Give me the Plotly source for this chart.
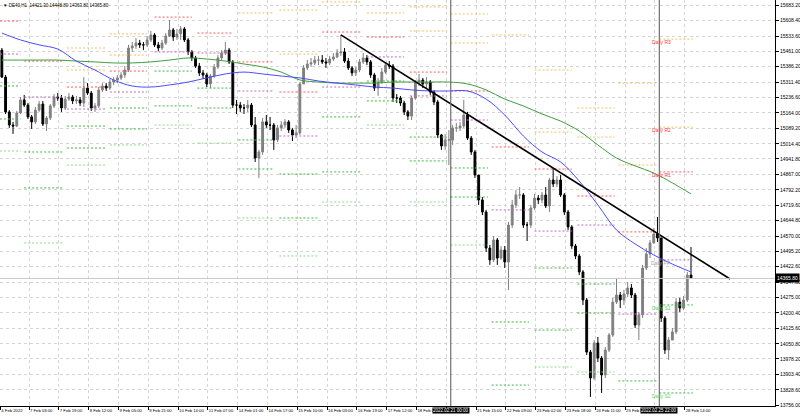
import plotly.graph_objects as go

# ---------------- data (DE40, H1 chart, aggregated to 2-hour candles) ----------------
first_open = 15466
close = [
    15336, 15168, 15105, 15100, 15163, 15226, 15201, 15144, 15120, 15177,
    15206, 15110, 15139, 15197, 15240, 15235, 15187, 15230, 15240, 15221,
    15226, 15211, 15283, 15259, 15187, 15197, 15274, 15293, 15283, 15312,
    15322, 15332, 15346, 15370, 15476, 15486, 15500, 15491, 15491, 15515,
    15539, 15491, 15476, 15500, 15534, 15563, 15529, 15544, 15568, 15515,
    15457, 15428, 15389, 15356, 15346, 15303, 15341, 15385, 15428, 15452,
    15466, 15409, 15201, 15201, 15187, 15187, 15201, 15105, 14946, 14975,
    15120, 15105, 15105, 15033, 15091, 15105, 15120, 15081, 15057, 15067,
    15303, 15380, 15399, 15404, 15418, 15418, 15409, 15404, 15423, 15433,
    15452, 15457, 15413, 15380, 15356, 15370, 15409, 15428, 15409, 15346,
    15283, 15312, 15360, 15394, 15389, 15235, 15235, 15211, 15168, 15148,
    15235, 15312, 15322, 15303, 15312, 15264, 15216, 15057, 15004, 15033,
    15033, 15091, 15091, 15100, 15153, 15042, 14975, 14864, 14744, 14686,
    14512, 14455, 14551, 14464, 14503, 14445, 14623, 14720, 14768, 14768,
    14623, 14623, 14705, 14753, 14744, 14768, 14715, 14840, 14821, 14840,
    14768, 14686, 14614, 14522, 14474, 14397, 14262, 14011, 13886, 14055,
    13982, 13901, 14021, 14093, 14252, 14286, 14262, 14291, 14320, 14286,
    14141, 14190, 14416, 14484, 14537, 14580, 14561, 14175, 14021, 14069,
    14108, 14252, 14223, 14262, 14382, 14365.8]
high = [
    15476, 15346, 15177, 15120, 15173, 15240, 15250, 15211, 15153, 15192,
    15221, 15221, 15148, 15206, 15254, 15259, 15250, 15245, 15259, 15250,
    15245, 15240, 15336, 15307, 15269, 15211, 15288, 15307, 15307, 15327,
    15336, 15346, 15360, 15389, 15491, 15505, 15524, 15515, 15505, 15534,
    15558, 15548, 15505, 15515, 15548, 15611, 15572, 15568, 15582, 15577,
    15524, 15466, 15438, 15404, 15370, 15356, 15351, 15399, 15442, 15466,
    15505, 15476, 15418, 15226, 15216, 15206, 15226, 15211, 15144, 14985,
    15139, 15153, 15144, 15115, 15105, 15124, 15134, 15129, 15091, 15105,
    15312, 15394, 15418, 15428, 15438, 15438, 15442, 15428, 15438, 15452,
    15471, 15539, 15476, 15428, 15389, 15385, 15423, 15452, 15442, 15418,
    15356, 15332, 15380, 15409, 15413, 15399, 15254, 15245, 15221, 15177,
    15245, 15322, 15351, 15332, 15336, 15322, 15274, 15226, 15062, 15062,
    15081, 15105, 15115, 15120, 15226, 15168, 15052, 14985, 14864, 14758,
    14696, 14527, 14570, 14561, 14522, 14522, 14638, 14744, 14792, 14806,
    14777, 14638, 14720, 14773, 14768, 14782, 14806, 14850, 14898, 14859,
    14864, 14777, 14696, 14623, 14532, 14484, 14406, 14272, 14021, 14069,
    14084, 13992, 14035, 14103, 14272, 14368, 14300, 14310, 14349, 14339,
    14296, 14204, 14431, 14512, 14551, 14609, 14662, 14561, 14185, 14084,
    14127, 14272, 14272, 14281, 14397, 14517]
low = [
    15332, 15158, 15091, 15062, 15095, 15158, 15192, 15134, 15086, 15110,
    15168, 15100, 15076, 15129, 15187, 15221, 15168, 15177, 15221, 15206,
    15206, 15197, 15192, 15250, 15173, 15168, 15187, 15264, 15269, 15274,
    15298, 15307, 15322, 15332, 15360, 15457, 15471, 15476, 15466, 15481,
    15505, 15481, 15462, 15466, 15491, 15529, 15510, 15515, 15515, 15505,
    15442, 15413, 15380, 15341, 15327, 15288, 15283, 15332, 15375, 15418,
    15442, 15399, 15187, 15158, 15168, 15158, 15168, 15095, 14927, 14850,
    14961, 15091, 15081, 14985, 15023, 15076, 15091, 15067, 15028, 15042,
    15057, 15303, 15370, 15385, 15394, 15394, 15399, 15380, 15394, 15413,
    15428, 15438, 15404, 15370, 15341, 15341, 15360, 15399, 15394, 15332,
    15269, 15245, 15303, 15351, 15375, 15216, 15211, 15197, 15153, 15129,
    15129, 15226, 15293, 15283, 15283, 15250, 15201, 15042, 14985, 14985,
    14912, 15009, 15071, 15076, 15091, 15033, 14961, 14850, 14720, 14671,
    14493, 14431, 14445, 14431, 14455, 14416, 14310, 14609, 14705, 14749,
    14609, 14546, 14609, 14696, 14724, 14729, 14705, 14686, 14806, 14806,
    14758, 14671, 14599, 14508, 14459, 14382, 14238, 13997, 13795, 13876,
    13963, 13814, 13886, 14011, 14084, 14243, 14223, 14238, 14276, 14272,
    14127, 14069, 14175, 14406, 14464, 14532, 14541, 14156, 14002, 13973,
    14069, 14098, 14204, 14214, 14252, 14363.8]
bars = list(range(len(close)))
open_ = [first_open] + close[:-1]

# moving averages (every 5 candles)
ma_bars = [0, 5, 10, 15, 20, 25, 30, 35, 40, 45, 50, 55, 60, 65, 70, 75, 80, 85, 90,
           95, 100, 105, 110, 115, 120, 125, 130, 135, 140, 145, 150, 155, 160, 165,
           170, 175, 180, 185]
ma_blue = [15548, 15515, 15491, 15471, 15413, 15370, 15322, 15293, 15288, 15298,
           15312, 15332, 15351, 15360, 15351, 15341, 15332, 15317, 15307, 15298,
           15288, 15283, 15274, 15269, 15269, 15269, 15230, 15153, 15052, 14975,
           14927, 14835, 14720, 14599, 14532, 14479, 14435, 14397]
ma_green = [15418, 15418, 15418, 15418, 15413, 15409, 15404, 15404, 15409, 15418,
            15428, 15423, 15413, 15399, 15385, 15360, 15322, 15312, 15307, 15307,
            15307, 15312, 15312, 15312, 15312, 15303, 15274, 15230, 15197, 15158,
            15124, 15076, 15009, 14946, 14908, 14874, 14826, 14773]

# daily pivot levels (one value per day)
day_start = [-0.5, 6, 17.5, 29, 41, 52.5, 63.5, 74.5, 86, 98, 109.5, 120.5, 131.5,
             143, 154.5, 165.5, 176.5]
day_end = [5, 16.5, 28, 39, 51, 62, 73, 85, 96.5, 108, 119.5, 130.5, 141.5, 153,
           164.5, 176, 185.5]
r3 = [15919, 15852, 15476, 15544, 15886, 15813, 15784, 15659, 15963, 15741, 15674,
      15640, 15842, 15370, 15187, 15307, 15519]
r2 = [15760, 15678, 15370, 15442, 15717, 15717, 15645, 15447, 15698, 15645, 15558,
      15500, 15539, 15071, 15047, 14912, 15095]
r1 = [15606, 15413, 15288, 15365, 15625, 15548, 15409, 15264, 15553, 15529, 15360,
      15269, 14999, 14893, 14763, 14590, 14879]
pp = [15447, 15240, 15182, 15264, 15457, 15452, 15269, 15052, 15288, 15433, 15245,
      15129, 14696, 14594, 14623, 14194, 14455]
s1 = [15293, 14975, 15100, 15187, 15365, 15283, 15033, 14869, 15144, 15317, 15047,
      14898, 14156, 14416, 14339, 13872, 14238]
s2 = [15134, 14802, 14994, 15086, 15197, 15187, 14893, 14657, 14879, 15221, 14932,
      14758, 13852, 14117, 14199, 13477, 13814]
s3 = [14980, 14537, 14912, 15009, 15105, 15018, 14657, 14474, 14734, 15105, 14734,
      14527, 13313, 13939, 13915, 13154, 13597]

trend_bars = [91, 195.5]
trend_price = [15539, 14363]
week_lines = [120.5, 176.5]
week_labels = ["2022.02.21 00:00", "2022.02.25 22:00"]

x_tick_pos = [-0.4, 7.3, 15.3, 23.3, 31.3, 39.3, 47.3, 55.3, 63.3, 71.3, 79.3, 87.3,
              95.3, 103.3, 111.3, 119.3, 127.3, 135.3, 143.3, 151.3, 159.3, 167.3,
              175.3, 183.3]
# labels under the two date boxes are hidden in the reference
x_tick_text = ["4 Feb 2022", "7 Feb 03:00", "7 Feb 19:00", "8 Feb 12:00", "9 Feb 05:00",
               "9 Feb 21:00", "10 Feb 14:00", "11 Feb 07:00", "14 Feb 01:00",
               "14 Feb 17:00", "15 Feb 10:00", "16 Feb 03:00", "16 Feb 19:00",
               "17 Feb 12:00", "18 Feb 05:00", "", "21 Feb 15:00",
               "22 Feb 09:00", "23 Feb 02:00", "23 Feb 18:00", "24 Feb 11:00",
               "25 Feb 04:00", "", "28 Feb 14:00"]
y_ticks = [15683.2, 15608.4, 15533.6, 15461.0, 15386.2, 15311.4, 15236.6, 15164.0,
           15089.2, 15014.4, 14941.8, 14867.0, 14792.2, 14719.6, 14644.8, 14570.0,
           14495.2, 14422.6, 14347.8, 14275.0, 14200.4, 14125.6, 14050.8, 13978.2,
           13903.4, 13828.6, 13756.0]
title_text = "\u25BC DE40,H1  14421.30 14448.80 14363.80 14365.80"

# ---------------- figure ----------------
FONT = "Liberation Sans"
fig = go.Figure()

level_sets = [
    ("R3", r3, "#F2BE62"), ("R2", r2, "#F2BE62"), ("R1", r1, "#FF5A5A"),
    ("PP", pp, "#BE6CBE"), ("S1", s1, "#3DB83D"), ("S2", s2, "#3DB83D"),
    ("S3", s3, "#86DE86"),
]
for name, vals, col in level_sets:
    xs, ys = [], []
    for a, b, v in zip(day_start, day_end, vals):
        xs += [a, b, None]
        ys += [v, v, None]
    fig.add_trace(go.Scatter(x=xs, y=ys, mode="lines", hoverinfo="skip",
                             line=dict(color=col, width=1, dash="2px,2px"),
                             showlegend=False))

fig.add_trace(go.Scatter(x=ma_bars, y=ma_green, mode="lines", line_shape="spline",
                         line=dict(color="#3E9E3E", width=1), hoverinfo="skip",
                         showlegend=False))
fig.add_trace(go.Scatter(x=ma_bars, y=ma_blue, mode="lines", line_shape="spline",
                         line=dict(color="#4B4BFF", width=1), hoverinfo="skip",
                         showlegend=False))

fig.add_trace(go.Candlestick(
    x=bars, open=open_, high=high, low=low, close=close,
    increasing=dict(line=dict(color="#808080", width=1), fillcolor="#808080"),
    decreasing=dict(line=dict(color="#000000", width=1), fillcolor="#000000"),
    whiskerwidth=0, hoverinfo="skip", showlegend=False))

fig.add_trace(go.Scatter(x=trend_bars, y=trend_price, mode="lines",
                         line=dict(color="#000000", width=1.6), hoverinfo="skip",
                         showlegend=False))

for wx in week_lines:
    fig.add_vline(x=wx, line=dict(color="#707070", width=1.2))
fig.add_hline(y=close[-1], line=dict(color="#C8C8C8", width=1))

# pivot labels of the last day
lbl_specs = [("Daily R3", r3[-1], "#FF3B3B"), ("Daily R2", r2[-1], "#FF3B3B"),
             ("Daily R1", r1[-1], "#FF3B3B"), ("Daily PP", pp[-1], "#A8A8A8"),
             ("Daily S1", s1[-1], "#5CD65C"), ("Daily S2", s2[-1], "#5CD65C")]
for txt, val, col in lbl_specs:
    fig.add_annotation(x=day_start[-1], y=val, text=txt, showarrow=False,
                       xanchor="center", yanchor="middle", yshift=-3, xshift=2,
                       font=dict(family=FONT, size=5, color=col))

for wx, wt in zip(week_lines, week_labels):
    fig.add_annotation(x=wx, xref="x", y=0, yref="paper", text=wt, showarrow=False,
                       xanchor="center", yanchor="top", yshift=-1,
                       bgcolor="#000000", borderpad=0,
                       font=dict(family=FONT, size=4.5, color="#FFFFFF"))

fig.add_annotation(x=1, xref="paper", y=close[-1], yref="y",
                   text=f"{close[-1]:.2f}", showarrow=False, xanchor="left",
                   yanchor="middle", bgcolor="#000000", borderpad=1,
                   font=dict(family=FONT, size=5, color="#FFFFFF"))
fig.add_annotation(x=0, xref="paper", y=1, yref="paper", text=title_text,
                   showarrow=False, xanchor="left", yanchor="top", xshift=1, yshift=-1,
                   font=dict(family=FONT, size=4.5, color="#000000"))

fig.update_layout(
    width=800, height=418, margin=dict(l=0, r=25, t=0, b=12),
    paper_bgcolor="#FFFFFF", plot_bgcolor="#FFFFFF", showlegend=False,
    font=dict(family=FONT, size=5, color="#000000"),
    xaxis=dict(range=[-0.5, 207.55], tickmode="array", tickvals=x_tick_pos,
               ticktext=x_tick_text, ticks="outside", ticklen=3, tickcolor="#000000",
               ticklabelposition="outside right", tickangle=0, showgrid=True,
               gridcolor="#D4D4D4", griddash="dot", gridwidth=1, showline=True,
               linecolor="#000000", linewidth=1, mirror=True, zeroline=False,
               rangeslider=dict(visible=False),
               tickfont=dict(family=FONT, size=4.2, color="#000000"), fixedrange=True),
    yaxis=dict(range=[13751.2, 15707.3], side="right", tickmode="array",
               tickvals=y_ticks, ticktext=[f"{v:.2f}" for v in y_ticks],
               ticks="outside", ticklen=3, tickcolor="#000000", showgrid=True,
               gridcolor="#D4D4D4", griddash="dot", gridwidth=1, showline=True,
               linecolor="#000000", linewidth=1, zeroline=False,
               tickfont=dict(family=FONT, size=5, color="#000000"), fixedrange=True),
)

fig.write_html("out.html", config={"displayModeBar": False, "staticPlot": True},
               post_script="document.body.style.margin='0';document.body.style.overflow='hidden';")
